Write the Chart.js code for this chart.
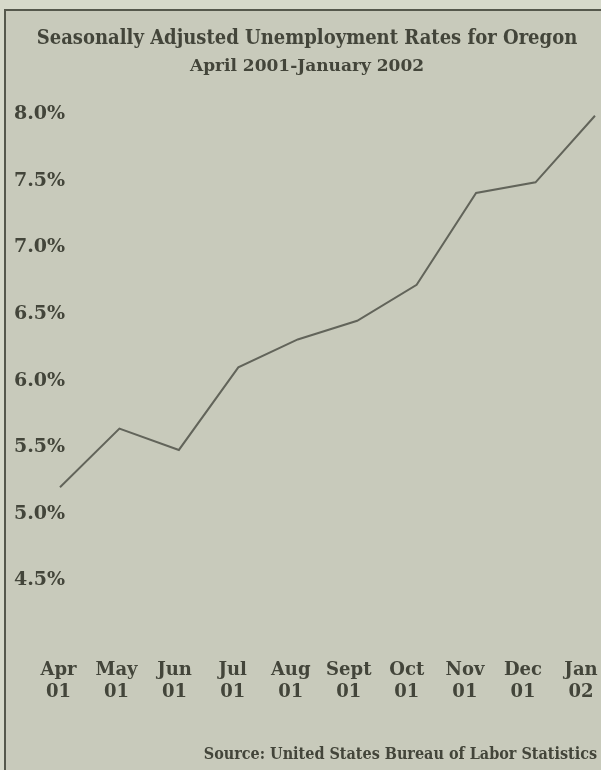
<!DOCTYPE html>
<html>
<head>
<meta charset="utf-8">
<script src="https://cdn.jsdelivr.net/npm/chart.js@4/dist/chart.umd.min.js"></script>
<style>
  html, body { margin: 0; padding: 0; }
  body { width: 601px; height: 770px; background: #d6d9ca; position: relative; overflow: hidden; }
  #frame { position: absolute; left: 4px; top: 9px; width: 700px; height: 800px;
           border-left: 2px solid #55584c; border-top: 2px solid #55584c; background: #c8cabb; }
  #wrap { position: absolute; left: 0; top: 0; width: 601px; height: 770px; }
</style>
</head>
<body>
<div id="frame"></div>
<div id="wrap"><canvas id="c" width="601" height="770"></canvas></div>
<script>
// ---- data ----
const months = ['Apr', 'May', 'Jun', 'Jul', 'Aug', 'Sept', 'Oct', 'Nov', 'Dec', 'Jan'];
const years  = ['01', '01', '01', '01', '01', '01', '01', '01', '01', '02'];
const rates  = [5.20, 5.64, 5.48, 6.10, 6.31, 6.45, 6.72, 7.41, 7.49, 7.99];
const titleText = 'Seasonally Adjusted Unemployment Rates for Oregon';
const subtitleText = 'April 2001-January 2002';
const sourceText = 'Source: United States Bureau of Labor Statistics';

const ink = '#43453a';
const serifC = '"DejaVu Serif Condensed", "DejaVu Serif", serif';
const serif = '"DejaVu Serif", serif';

const sourcePlugin = {
  id: 'sourceNote',
  afterDraw(chart) {
    const ctx = chart.ctx;
    ctx.save();
    ctx.font = 'bold 16px ' + serifC;
    ctx.fillStyle = ink;
    ctx.textAlign = 'right';
    ctx.textBaseline = 'middle';
    ctx.fillText(sourceText, 597, 755);
    ctx.restore();
  }
};

new Chart(document.getElementById('c'), {
  type: 'line',
  data: {
    labels: months.map((m, i) => [m, years[i]]),
    datasets: [{
      data: rates.map((v, i) => ({ x: i, y: v })),
      xAxisID: 'xd',
      borderColor: '#62645a',
      borderWidth: 2,
      pointRadius: 0,
      tension: 0,
      fill: false,
      clip: false
    }]
  },
  options: {
    responsive: false,
    animation: false,
    layout: { padding: { left: 33, right: 20, top: 0, bottom: 54 } },
    plugins: {
      legend: { display: false },
      tooltip: { enabled: false },
      title: {
        display: true, text: titleText, color: ink,
        font: { family: serifC, size: 20, weight: 'bold' },
        padding: { top: 27, bottom: 4 }
      },
      subtitle: {
        display: true, text: subtitleText, color: ink,
        font: { family: serif, size: 17, weight: 'bold' },
        padding: { top: 1, bottom: 38 }
      }
    },
    scales: {
      x: {
        type: 'category',
        offset: false,
        afterFit: s => { s.paddingLeft = 0; s.paddingRight = 0; },
        grid: { display: false, drawTicks: false },
        border: { display: false },
        ticks: {
          color: ink, padding: 12, maxRotation: 0, autoSkip: false,
          font: { family: serif, size: 18, weight: 'bold', lineHeight: 1.25 }
        }
      },
      xd: {
        type: 'linear', display: false, min: -0.025, max: 8.765
      },
      y: {
        min: 4.0, max: 8.0,
        afterFit: s => { s.width = 25.5; },
        grid: { display: false, drawTicks: false },
        border: { display: false },
        ticks: {
          stepSize: 0.5, mirror: true, crossAlign: 'near', padding: -44.5, color: ink,
          font: { family: serif, size: 19, weight: 'bold' },
          callback: v => (v <= 4.0 ? '' : v.toFixed(1) + '%')
        }
      }
    }
  },
  plugins: [sourcePlugin]
});
</script>
</body>
</html>
